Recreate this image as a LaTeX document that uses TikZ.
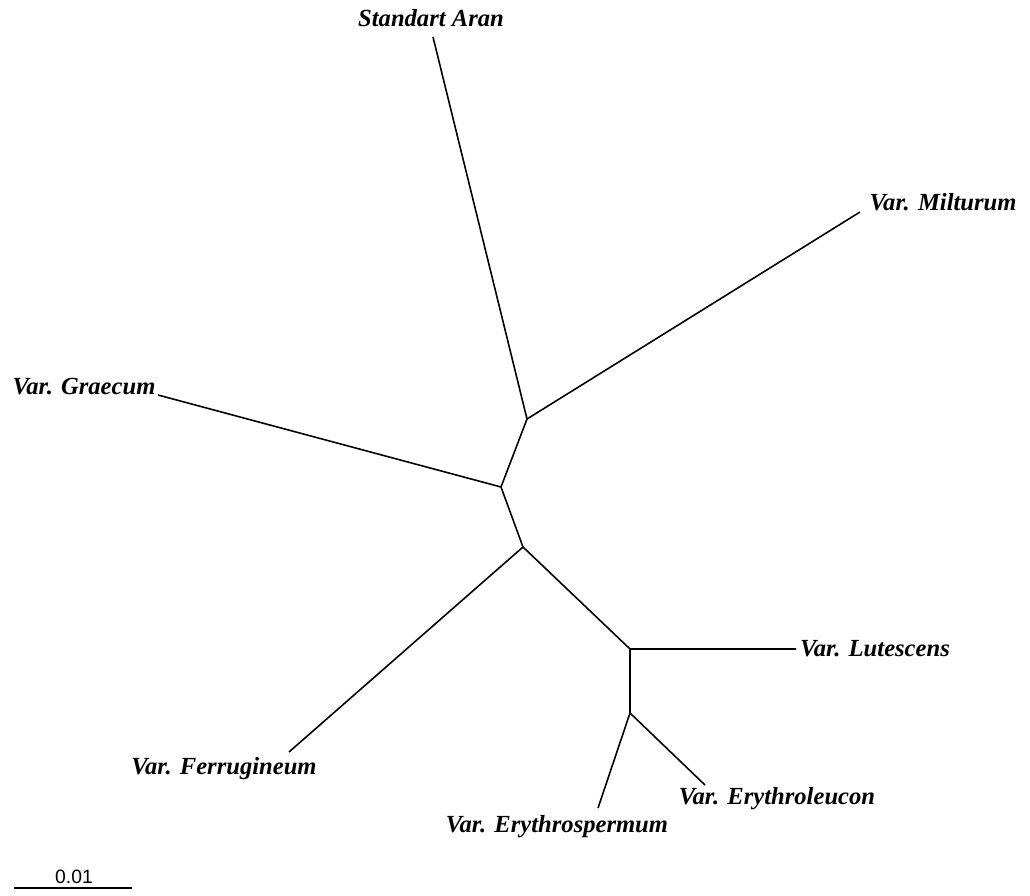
\documentclass[tikz,border=0pt]{standalone}
\usepackage{fontspec}
\setmainfont{Liberation Serif}
\setsansfont{Liberation Sans}
\begin{document}
\begin{tikzpicture}[
        x=0.02cm, y=-0.02cm,
        branch/.style={line width=0.9pt},
        taxon/.style={font=\fontsize{14}{16}\selectfont\bfseries\itshape, inner sep=0pt, anchor=base},
        scalelabel/.style={font=\sffamily\fontsize{11}{13}\selectfont, inner sep=0pt, anchor=base}
    ]
      \useasboundingbox (0,0) rectangle (1030,895);

      % Internal nodes
      \coordinate (a) at (527,419);
      \coordinate (b) at (501,487);
      \coordinate (c) at (523,547);
      \coordinate (d) at (630,649);
      \coordinate (e) at (630,713);

      % Leaves
      \coordinate (aran) at (433,37);
      \coordinate (milt) at (860,212);
      \coordinate (grae) at (158,395);
      \coordinate (ferr) at (289,752);
      \coordinate (lute) at (796,649);
      \coordinate (espe) at (598,808);
      \coordinate (eleu) at (705,785);

      % Labels
      \node[taxon] (aranl) at (431,27) {Standart Aran};
      \node[taxon] (miltl) at (943,211) {Var. Milturum};
      \node[taxon] (grael) at (84,394) {Var. Graecum};
      \node[taxon] (ferrl) at (224,774) {Var. Ferrugineum};
      \node[taxon] (lutel) at (875,656) {Var. Lutescens};
      \node[taxon] (espel) at (557,832) {Var. Erythrospermum};
      \node[taxon] (eleul) at (777,804) {Var. Erythroleucon};

      % Tree
      \draw[branch] (aran) -- (a) -- (milt);
      \draw[branch] (a) -- (b) -- (grae);
      \draw[branch] (b) -- (c) -- (ferr);
      \draw[branch] (c) -- (d) -- (lute);
      \draw[branch] (d) -- (e) -- (espe);
      \draw[branch] (e) -- (eleu);

      % Scale bar
      \coordinate (sb1) at (14,888);
      \coordinate (sb2) at (132,888);
      \draw[branch] (sb1) -- (sb2);
      \node[scalelabel] (sbl) at (74,883) {0.01};
    \end{tikzpicture}
\end{document}
